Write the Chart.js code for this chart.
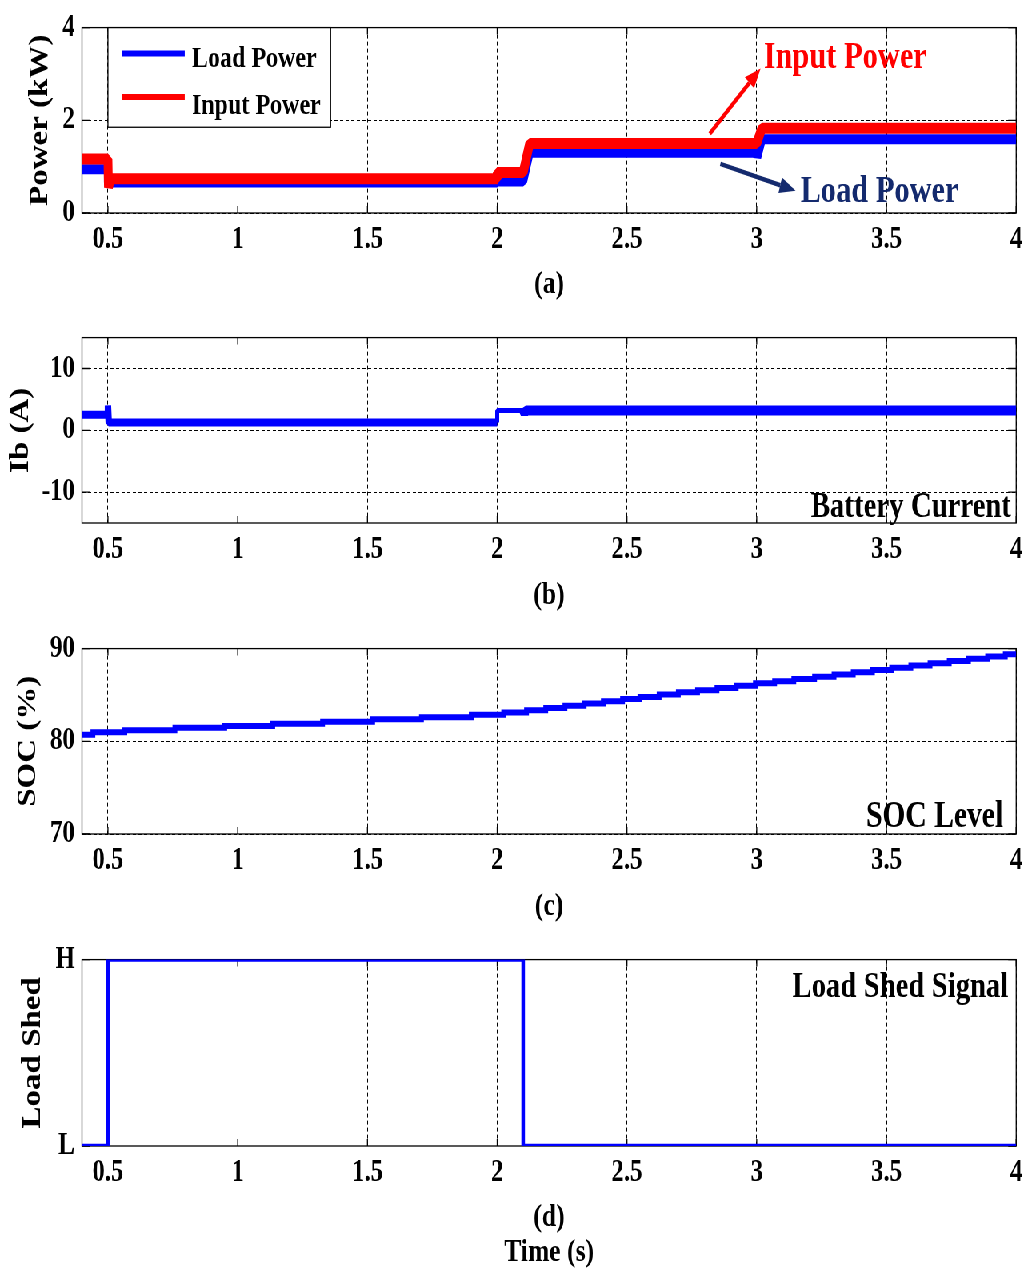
<!DOCTYPE html>
<html><head><meta charset="utf-8">
<script src="https://cdn.jsdelivr.net/npm/chart.js@4.4.0/dist/chart.umd.min.js"></script>
<style>
html,body{margin:0;padding:0;background:#fff;overflow:hidden;width:1029px;height:1278px;}
#wrap{position:absolute;left:0;top:0;width:1286px;height:1278px;transform:scaleX(0.8);transform-origin:0 0;}
#wrap canvas{position:absolute;left:0;}
</style></head><body>
<div id="wrap">
<canvas id="ca" width="1286" height="310" style="top:0px;width:1286px;height:310px"></canvas>
<canvas id="cb" width="1286" height="311" style="top:310px;width:1286px;height:311px"></canvas>
<canvas id="cc" width="1286" height="311" style="top:621px;width:1286px;height:311px"></canvas>
<canvas id="cd" width="1286" height="346" style="top:932px;width:1286px;height:346px"></canvas>
</div>
<script>
// ---------------- data ----------------
const xTicks = [0.5, 1, 1.5, 2, 2.5, 3, 3.5, 4];
const powerYTicks = [0, 2, 4];
const ibYTicks = [-10, 0, 10];
const socYTicks = [70, 80, 90];
const shedYTicks = [0, 1];
const shedYLabels = ['L', 'H'];
const panelLabels = ['(a)', '(b)', '(c)', '(d)'];
const timeLabel = 'Time (s)';
const yTitles = ['Power (kW)', 'Ib (A)', 'SOC (%)', 'Load Shed'];
const powerSeries = ['Load Power', 'Input Power'];

// Panel (a): load power (kW)
const loadPowerT = [0.4, 0.5, 0.5, 2.0, 2.0, 2.1, 2.125, 3.0, 3.002, 3.02, 4.0];
const loadPowerV = [0.945, 0.945, 0.66, 0.66, 0.68, 0.68, 1.30, 1.30, 1.20, 1.59, 1.59];
// Panel (a): input power (kW)
const inputPowerT = [0.4, 0.5, 0.502, 0.51, 2.0, 2.0, 2.1, 2.125, 3.0, 3.02, 4.0];
const inputPowerV = [1.165, 1.165, 0.55, 0.74, 0.74, 0.875, 0.875, 1.50, 1.50, 1.83, 1.83];

// Panel (b): battery current (A)
const ibT = [0.4, 0.499, 0.5, 0.503, 2.0, 2.0, 2.1, 2.105, 2.11, 4.0];
const ibV = [2.5, 2.5, 4.0, 1.25, 1.25, 3.2, 3.2, 2.7, 3.2, 3.2];

// Panel (c): SOC (%) staircase (value holds from each time until the next)
const socT = [0.4, 0.442, 0.565, 0.758, 0.95, 1.135, 1.327, 1.52, 1.708, 1.9,
  2.025, 2.113, 2.187, 2.261, 2.335, 2.409, 2.483, 2.55, 2.624, 2.698, 2.772, 2.847, 2.921, 2.995,
  3.069, 3.143, 3.223, 3.298, 3.372, 3.446, 3.52, 3.594, 3.668, 3.742, 3.816, 3.89, 3.958, 4.0];
const socV = [80.72, 80.98, 81.2, 81.45, 81.65, 81.9, 82.12, 82.38, 82.6, 82.86,
  83.10, 83.35, 83.59, 83.83, 84.07, 84.31, 84.55, 84.79, 85.04, 85.28, 85.52, 85.76, 86.00, 86.25,
  86.49, 86.73, 86.97, 87.21, 87.45, 87.70, 87.94, 88.18, 88.42, 88.66, 88.91, 89.15, 89.39, 89.39];

// Panel (d): load shed signal (0 = L, 1 = H), value holds from each time until the next
const shedT = [0.4, 0.5, 2.1, 4.0];
const shedV = [0, 1, 0, 0];

// ---------------- helpers ----------------
const FONT = 'Liberation Serif';
const BLUE = '#0000ff', RED = '#ff0000', NAVY = '#142a6e';
const pts = (T, V) => T.map((t, i) => ({x: t, y: V[i]}));

const framePlugin = {
  id: 'frame',
  beforeDatasetsDraw(chart) {
    const {ctx, chartArea: a, scales: {x, y}} = chart;
    ctx.save();
    ctx.setLineDash([]);
    ctx.strokeStyle = '#000';
    ctx.lineWidth = 1.3;
    ctx.beginPath();
    x.ticks.forEach(t => {
      const px = x.getPixelForValue(t.value);
      ctx.moveTo(px, a.bottom); ctx.lineTo(px, a.bottom - 7);
      ctx.moveTo(px, a.top); ctx.lineTo(px, a.top + 7);
    });
    y.ticks.forEach(t => {
      const py = y.getPixelForValue(t.value);
      ctx.moveTo(a.left, py); ctx.lineTo(a.left + 10, py);
      ctx.moveTo(a.right, py); ctx.lineTo(a.right - 10, py);
    });
    ctx.stroke();
    ctx.strokeRect(a.left, a.top, a.right - a.left, a.bottom - a.top);
    ctx.restore();
  }
};

const notesPlugin = {
  id: 'notes',
  afterDatasetsDraw(chart, args, opts) {
    const {ctx, scales: {x, y}} = chart;
    ctx.save();
    ctx.setLineDash([]);
    (opts.arrows || []).forEach(ar => {
      const x0 = x.getPixelForValue(ar.x0), y0 = y.getPixelForValue(ar.y0);
      const x1 = x.getPixelForValue(ar.x1), y1 = y.getPixelForValue(ar.y1);
      const ang = Math.atan2(y1 - y0, x1 - x0);
      const hl = 20, hw = 8;
      const bx = x1 - hl * Math.cos(ang), by = y1 - hl * Math.sin(ang);
      ctx.strokeStyle = ar.color; ctx.fillStyle = ar.color; ctx.lineWidth = 4.5; ctx.lineCap = 'butt';
      ctx.beginPath(); ctx.moveTo(x0, y0); ctx.lineTo(bx, by); ctx.stroke();
      ctx.beginPath(); ctx.moveTo(x1, y1);
      ctx.lineTo(bx + hw * Math.sin(ang), by - hw * Math.cos(ang));
      ctx.lineTo(bx - hw * Math.sin(ang), by + hw * Math.cos(ang));
      ctx.closePath(); ctx.fill();
    });
    (opts.texts || []).forEach(t => {
      ctx.font = `bold ${t.size}px "${FONT}"`;
      ctx.fillStyle = t.color; ctx.textAlign = t.align; ctx.textBaseline = 'alphabetic';
      ctx.fillText(t.text, x.getPixelForValue(t.x), y.getPixelForValue(t.y));
    });
    const L = opts.legend;
    if (L) {
      const bx0 = x.getPixelForValue(L.x0), by0 = y.getPixelForValue(L.y0);
      const bx1 = x.getPixelForValue(L.x1), by1 = y.getPixelForValue(L.y1);
      ctx.fillStyle = '#fff';
      ctx.fillRect(bx0, by0, bx1 - bx0, by1 - by0);
      ctx.strokeStyle = '#000'; ctx.lineWidth = 1.3;
      ctx.strokeRect(bx0, by0, bx1 - bx0, by1 - by0);
      L.items.forEach((label, i) => {
        const ds = chart.data.datasets.find(d => d.label === label);
        ctx.strokeStyle = ds.borderColor; ctx.lineWidth = 6; ctx.lineCap = 'butt';
        ctx.beginPath();
        ctx.moveTo(bx0 + 17.5, by0 + L.lineY[i]); ctx.lineTo(bx0 + 96, by0 + L.lineY[i]);
        ctx.stroke();
        ctx.font = `bold 30px "${FONT}"`;
        ctx.fillStyle = '#000'; ctx.textAlign = 'left'; ctx.textBaseline = 'alphabetic';
        ctx.fillText(label, bx0 + 105, by0 + L.textY[i]);
      });
    }
    ctx.restore();
  }
};

function panel(id, cfg) {
  return new Chart(document.getElementById(id), {
    type: 'line',
    data: {datasets: cfg.datasets},
    options: {
      responsive: false,
      animation: false,
      devicePixelRatio: 1,
      layout: {padding: {top: cfg.padTop, left: 0, right: 13.5, bottom: 0}},
      elements: {point: {radius: 0}, line: {tension: 0, borderJoinStyle: cfg.join || 'miter', borderCapStyle: 'butt', fill: false}},
      plugins: {legend: {display: false}, tooltip: {enabled: false}, notes: cfg.notes || {}},
      scales: {
        x: {
          type: 'linear', min: 0.4, max: 4,
          afterBuildTicks: s => { s.ticks = xTicks.map(v => ({value: v})); },
          afterFit: s => { s.height = cfg.xHeight; },
          ticks: {font: {family: FONT, size: 31, weight: 'bold'}, color: '#000', padding: 8,
                  maxRotation: 0, autoSkip: false, callback: v => String(v)},
          grid: {color: '#000', lineWidth: 1, drawTicks: false},
          border: {display: false, dash: [4, 3]},
          title: {display: true, text: cfg.xTitle, color: '#000',
                  font: {family: FONT, size: 32, weight: 'bold', lineHeight: 1.1},
                  padding: {top: 0, bottom: 7.4}}
        },
        y: {
          type: 'linear', min: cfg.yMin, max: cfg.yMax,
          afterBuildTicks: s => { s.ticks = cfg.yTicks.map(v => ({value: v})); },
          afterFit: s => { s.width = 102.5; },
          ticks: {font: {family: FONT, size: 31, weight: 'bold'}, color: '#000', padding: 9,
                  autoSkip: false, callback: cfg.yCallback || (v => String(v))},
          grid: {display: cfg.yGrid !== false, color: '#000', lineWidth: 1, drawTicks: false},
          border: {display: false, dash: [4, 3]},
          title: {display: true, text: cfg.yTitle, color: '#000',
                  font: {family: FONT, size: 33, weight: 'bold', lineHeight: 1.2},
                  padding: {top: cfg.yTitlePad, bottom: 0}}
        }
      }
    },
    plugins: [framePlugin, notesPlugin]
  });
}

// (a) Power
panel('ca', {
  padTop: 23, xHeight: 97, xTitle: panelLabels[0], join: 'bevel',
  yMin: 0, yMax: 4, yTicks: powerYTicks, yTitle: yTitles[0], yTitlePad: 31,
  datasets: [
    {label: powerSeries[1], data: pts(inputPowerT, inputPowerV), borderColor: RED, borderWidth: 11, order: 0},
    {label: powerSeries[0], data: pts(loadPowerT, loadPowerV), borderColor: BLUE, borderWidth: 10, order: 1}
  ],
  notes: {
    arrows: [
      {x0: 2.819, y0: 1.71, x1: 3.015, y1: 3.12, color: RED},
      {x0: 2.86, y0: 1.06, x1: 3.15, y1: 0.48, color: NAVY}
    ],
    texts: [
      {text: 'Input Power', x: 3.027, y: 3.12, color: RED, size: 38, align: 'left'},
      {text: 'Load Power', x: 3.169, y: 0.24, color: NAVY, size: 38, align: 'left'}
    ],
    legend: {x0: 0.5, y0: 4, x1: 1.358, y1: 1.85, items: powerSeries, lineY: [26, 69.5], textY: [39.5, 86.5]}
  }
});

// (b) Battery current
panel('cb', {
  padTop: 27, xHeight: 98, xTitle: panelLabels[1], join: 'bevel',
  yMin: -15, yMax: 15, yTicks: ibYTicks, yTitle: yTitles[1], yTitlePad: 6.2,
  datasets: [
    {label: 'Battery Current', data: pts(ibT, ibV), borderColor: BLUE, borderWidth: 8,
     segment: {borderWidth: c => { const x0 = c.p0.parsed.x; return x0 >= 2.1 ? 10 : (x0 >= 2.0 ? 5 : 8); }}}
  ],
  notes: {texts: [{text: 'Battery Current', x: 3.98, y: -13.97, color: '#000', size: 36, align: 'right'}]}
});

// (c) SOC
panel('cc', {
  padTop: 26, xHeight: 98, xTitle: panelLabels[2],
  yMin: 70, yMax: 90, yTicks: socYTicks, yTitle: yTitles[2], yTitlePad: 15.2,
  datasets: [
    {label: 'SOC Level', data: pts(socT, socV), borderColor: BLUE, borderWidth: 6, stepped: 'before'}
  ],
  notes: {texts: [{text: 'SOC Level', x: 3.95, y: 70.73, color: '#000', size: 37, align: 'right'}]}
});

// (d) Load shed signal
panel('cd', {
  padTop: 27, xHeight: 132, xTitle: [panelLabels[3], timeLabel],
  yMin: 0, yMax: 1, yTicks: shedYTicks, yTitle: yTitles[3], yTitlePad: 21.2, yGrid: false,
  yCallback: v => shedYLabels[shedYTicks.indexOf(v)],
  datasets: [
    {label: 'Load Shed Signal', data: pts(shedT, shedV), borderColor: BLUE, borderWidth: 4.5, stepped: 'before'}
  ],
  notes: {texts: [{text: 'Load Shed Signal', x: 3.97, y: 0.797, color: '#000', size: 36, align: 'right'}]}
});
</script>
</body></html>
